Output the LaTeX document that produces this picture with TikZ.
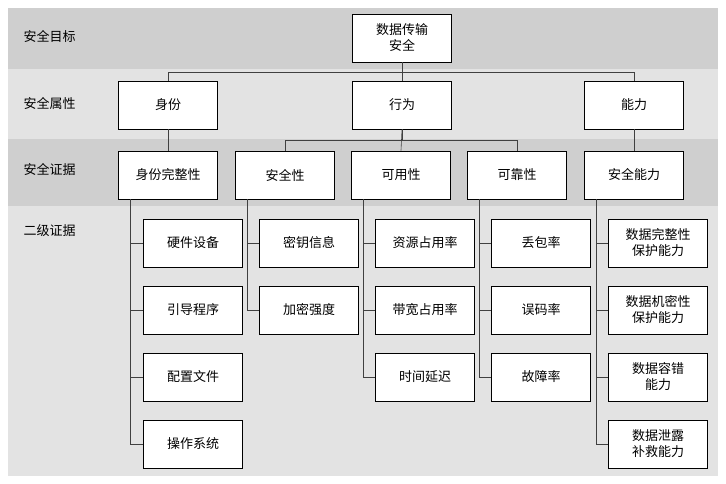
\documentclass[tikz,border=0pt]{standalone}
\usepackage{fontspec}
\setmainfont{Noto Sans CJK SC}
\usetikzlibrary{positioning}
\tikzset{box/.style={draw=black,thick,fill=white,rectangle,minimum width=99pt,
        minimum height=48pt,inner sep=0pt,align=center,font=\fontsize{13pt}{16pt}\selectfont},
        lbox/.style={box},
        band/.style={draw=none},
        tag/.style={anchor=west,font=\fontsize{13pt}{16pt}\selectfont},
        link/.style={draw=black!75,semithick}}
\begin{document}
\begin{tikzpicture}[x=1pt,y=-1pt]
	\useasboundingbox (0,0) rectangle (726,484);
	% bands
	\fill[black!19] (8,8) rectangle (718,69);
	\fill[black!11] (8,69) rectangle (718,139);
	\fill[black!19] (8,139) rectangle (718,206);
	\fill[black!11] (8,206) rectangle (718,476);
	\node[tag] (t1) at (20,36) {安全目标};
	\node[tag] (t2) at (20,103) {安全属性};
	\node[tag] (t3) at (20,169) {安全证据};
	\node[tag] (t4) at (20,231) {二级证据};

	\node[box] (goal) at (402,38) {数据传输\\安全};
	\node[box] (A1) at (168,105) {身份};
	\node[box] (A2) at (402,105) {行为};
	\node[box] (A3) at (634,105) {能力};

	\node[box] (B1) at (168,175) {身份完整性};
	\node[box] (B2) at (285,175) {安全性};
	\node[box] (B3) at (401,175) {可用性};
	\node[box] (B4) at (517,175) {可靠性};
	\node[box] (B5) at (634,175) {安全能力};

	\node[box] (C11) at (193,243) {硬件设备};
	\node[box] (C12) at (193,310) {引导程序};
	\node[box] (C13) at (193,377) {配置文件};
	\node[box] (C14) at (193,444) {操作系统};
	\node[box] (C21) at (309,243) {密钥信息};
	\node[box] (C22) at (309,310) {加密强度};
	\node[box] (C31) at (425,243) {资源占用率};
	\node[box] (C32) at (425,310) {带宽占用率};
	\node[box] (C33) at (425,377) {时间延迟};
	\node[box] (C41) at (541,243) {丢包率};
	\node[box] (C42) at (541,310) {误码率};
	\node[box] (C43) at (541,377) {故障率};
	\node[box] (C51) at (658,243) {数据完整性\\保护能力};
	\node[box] (C52) at (658,310) {数据机密性\\保护能力};
	\node[box] (C53) at (658,377) {数据容错\\能力};
	\node[box] (C54) at (658,444) {数据泄露\\补救能力};

	% tree links
	\draw[link] (goal.south) |- (168,72) -- (A1.north);
	\draw[link] (goal.south) |- (634,72) -- (A3.north);
	\draw[link] (goal.south) -- (A2.north);
	\draw[link] (A1) -- (B1);
	\draw[link] (A3) -- (B5);
	\draw[link] (A2.south) |- (285,140) -- (B2.north);
	\draw[link] (A2.south) |- (517,140) -- (B4.north);
	\draw[link] (A2.south) -- (B3.north);
	\foreach \b/\last/\list in {1/4/{1,2,3,4},2/2/{1,2},3/3/{1,2,3},4/3/{1,2,3},5/4/{1,2,3,4}}{
		\draw[link] ([xshift=12pt]B\b.south west) |- (C\b\last.west);
		\foreach \c in \list
			\draw[link] ([xshift=12pt]B\b.south west |- C\b\c.west) -- (C\b\c.west);
	}
\end{tikzpicture}
\end{document}
